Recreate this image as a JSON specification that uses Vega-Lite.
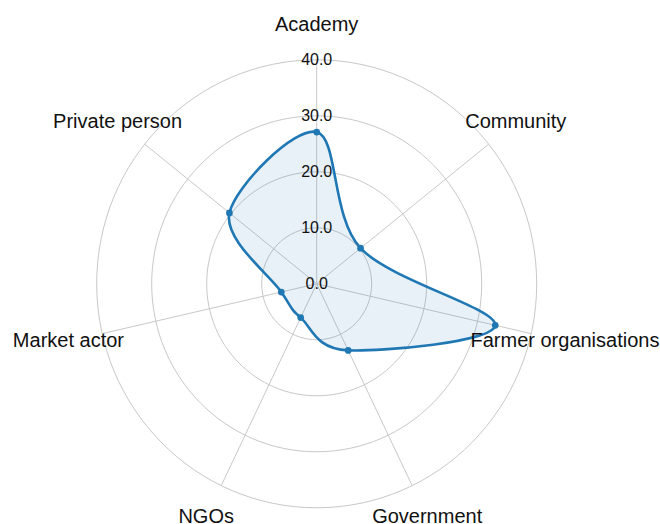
{
  "$schema": "https://vega.github.io/schema/vega-lite/v6.json",
  "width": 660,
  "height": 524,
  "padding": 0,
  "autosize": {"type": "none"},
  "background": "white",
  "config": {"view": {"stroke": null}},
  "datasets": {
    "scores": [
      {"category": "Academy", "value": 27.1},
      {"category": "Community", "value": 10.2},
      {"category": "Farmer organisations", "value": 33.3},
      {"category": "Government", "value": 13.2},
      {"category": "NGOs", "value": 6.7},
      {"category": "Market actor", "value": 6.6},
      {"category": "Private person", "value": 20.3}
    ],
    "ticks": [
      {"t": 0}, {"t": 10}, {"t": 20}, {"t": 30}, {"t": 40}
    ]
  },
  "layer": [
    {
      "data": {"name": "ticks"},
      "transform": [{"filter": "datum.t > 0"}],
      "mark": {"type": "point", "shape": "M -1 0 A 1 1.018 0 1 0 1 0 A 1 1.018 0 1 0 -1 0 Z", "filled": false, "stroke": "#c8c8c8", "strokeWidth": 1, "opacity": 1},
      "encoding": {
        "x": {"datum": 0, "type": "quantitative", "scale": {"domain": [-57.58, 62.42], "nice": false, "zero": false}, "axis": null},
        "y": {"datum": 0, "type": "quantitative", "scale": {"domain": [-42.893, 50.679], "nice": false, "zero": false}, "axis": null},
        "size": {"field": "t", "type": "quantitative", "scale": {"type": "pow", "exponent": 2, "domain": [0, 40], "range": [0, 193600]}, "legend": null}
      }
    },
    {
      "data": {"name": "scores"},
      "transform": [
        {"window": [{"op": "row_number", "as": "idx"}]},
        {"calculate": "2 * PI * (datum.idx - 1) / 7", "as": "theta"},
        {"calculate": "40 * sin(datum.theta)", "as": "sx"},
        {"calculate": "40 * cos(datum.theta)", "as": "sy"}
      ],
      "mark": {"type": "rule", "stroke": "#c8c8c8", "strokeWidth": 1},
      "encoding": {
        "x": {"field": "sx", "type": "quantitative", "scale": {"domain": [-57.58, 62.42], "nice": false, "zero": false}, "axis": null},
        "y": {"field": "sy", "type": "quantitative", "scale": {"domain": [-42.893, 50.679], "nice": false, "zero": false}, "axis": null},
        "x2": {"datum": 0},
        "y2": {"datum": 0}
      }
    },
    {
      "data": {"name": "scores"},
      "transform": [
        {"window": [{"op": "row_number", "as": "idx"}]},
        {"calculate": "2 * PI * (datum.idx - 1) / 7", "as": "theta"},
        {"calculate": "datum.value * sin(datum.theta)", "as": "px"},
        {"calculate": "datum.value * cos(datum.theta)", "as": "py"}
      ],
      "mark": {"type": "line", "interpolate": "cardinal-closed", "stroke": "#1f77b4", "strokeWidth": 2.6, "fill": "#1f77b4", "fillOpacity": 0.1},
      "encoding": {
        "x": {"field": "px", "type": "quantitative", "scale": {"domain": [-57.58, 62.42], "nice": false, "zero": false}, "axis": null},
        "y": {"field": "py", "type": "quantitative", "scale": {"domain": [-42.893, 50.679], "nice": false, "zero": false}, "axis": null},
        "order": {"field": "idx", "type": "quantitative"}
      }
    },
    {
      "data": {"name": "scores"},
      "transform": [
        {"window": [{"op": "row_number", "as": "idx"}]},
        {"calculate": "2 * PI * (datum.idx - 1) / 7", "as": "theta"},
        {"calculate": "datum.value * sin(datum.theta)", "as": "px"},
        {"calculate": "datum.value * cos(datum.theta)", "as": "py"}
      ],
      "mark": {"type": "point", "shape": "circle", "filled": true, "color": "#1f77b4", "size": 45, "opacity": 1},
      "encoding": {
        "x": {"field": "px", "type": "quantitative", "scale": {"domain": [-57.58, 62.42], "nice": false, "zero": false}, "axis": null},
        "y": {"field": "py", "type": "quantitative", "scale": {"domain": [-42.893, 50.679], "nice": false, "zero": false}, "axis": null}
      }
    },
    {
      "data": {"name": "ticks"},
      "mark": {"type": "text", "font": "Liberation Sans", "fontSize": 16, "color": "#111111", "align": "center", "baseline": "middle"},
      "encoding": {
        "x": {"datum": 0, "type": "quantitative", "scale": {"domain": [-57.58, 62.42], "nice": false, "zero": false}, "axis": null},
        "y": {"field": "t", "type": "quantitative", "scale": {"domain": [-42.893, 50.679], "nice": false, "zero": false}, "axis": null},
        "text": {"field": "t", "type": "quantitative", "format": ".1f"}
      }
    },
    {
      "data": {"name": "scores"},
      "transform": [
        {"window": [{"op": "row_number", "as": "idx"}]},
        {"calculate": "2 * PI * (datum.idx - 1) / 7", "as": "theta"},
        {"calculate": "46.3 * sin(datum.theta)", "as": "lx"},
        {"calculate": "46.3 * cos(datum.theta)", "as": "ly"}
      ],
      "mark": {"type": "text", "font": "Liberation Sans", "fontSize": 20, "color": "#111111", "align": "center", "baseline": "middle"},
      "encoding": {
        "x": {"field": "lx", "type": "quantitative", "scale": {"domain": [-57.58, 62.42], "nice": false, "zero": false}, "axis": null},
        "y": {"field": "ly", "type": "quantitative", "scale": {"domain": [-42.893, 50.679], "nice": false, "zero": false}, "axis": null},
        "text": {"field": "category", "type": "nominal"}
      }
    }
  ]
}
